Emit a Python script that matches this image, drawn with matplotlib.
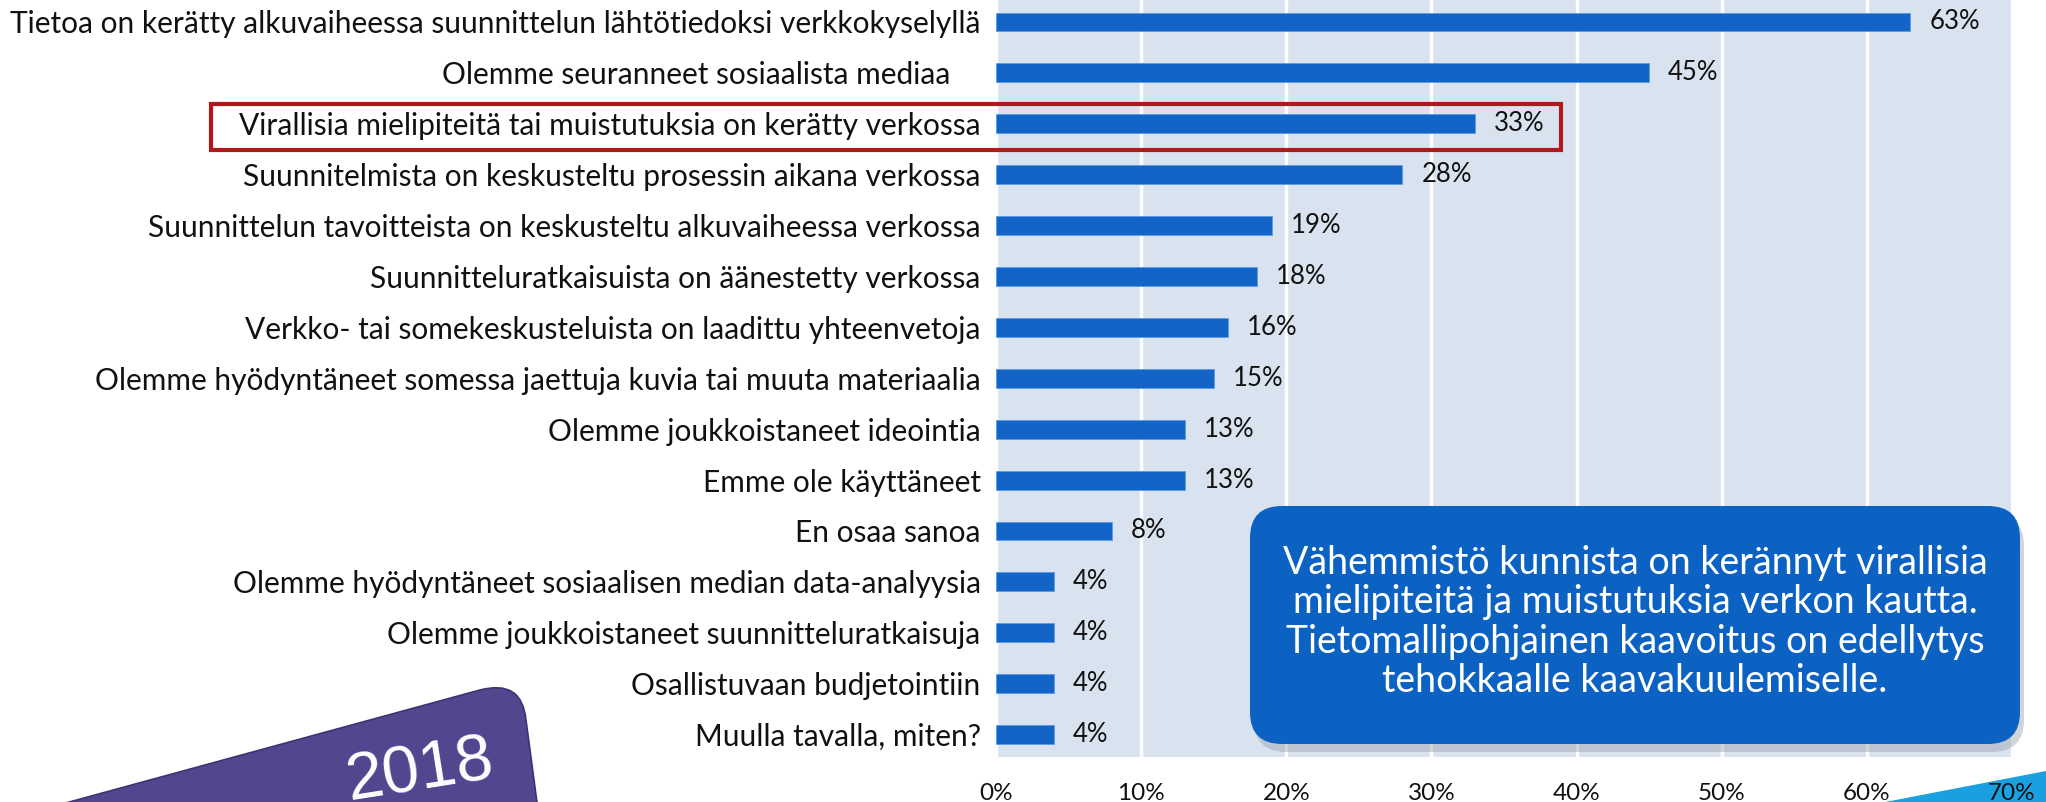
import matplotlib
matplotlib.use("Agg")
import matplotlib.pyplot as plt
from matplotlib.patches import FancyBboxPatch, PathPatch, Polygon, Rectangle
from matplotlib.path import Path

plt.rcParams['font.family'] = ['Lato', 'DejaVu Sans']

categories = [
    "Tietoa on kerätty alkuvaiheessa suunnittelun lähtötiedoksi verkkokyselyllä",
    "Olemme seuranneet sosiaalista mediaa\u00a0\u00a0\u00a0\u00a0",
    "Virallisia mielipiteitä tai muistutuksia on kerätty verkossa",
    "Suunnitelmista on keskusteltu prosessin aikana verkossa",
    "Suunnittelun tavoitteista on keskusteltu alkuvaiheessa verkossa",
    "Suunnitteluratkaisuista on äänestetty verkossa",
    "Verkko- tai somekeskusteluista on laadittu yhteenvetoja",
    "Olemme hyödyntäneet somessa jaettuja kuvia tai muuta materiaalia",
    "Olemme joukkoistaneet ideointia",
    "Emme ole käyttäneet",
    "En osaa sanoa",
    "Olemme hyödyntäneet sosiaalisen median data-analyysia",
    "Olemme joukkoistaneet suunnitteluratkaisuja",
    "Osallistuvaan budjetointiin",
    "Muulla tavalla, miten?",
]
values = [63, 45, 33, 28, 19, 18, 16, 15, 13, 13, 8, 4, 4, 4, 4]
xticks = [0, 10, 20, 30, 40, 50, 60, 70]

callout_lines = [
    "Vähemmistö kunnista on kerännyt virallisia",
    "mielipiteitä ja muistutuksia verkon kautta.",
    "Tietomallipohjainen kaavoitus on edellytys",
    "tehokkaalle kaavakuulemiselle.",
]
year_text = "2018"

W, H = 2046, 802
fig = plt.figure(figsize=(W / 100, H / 100), dpi=100)
inch = fig.dpi_scale_trans


def px(x, y):
    # image pixel (top-left origin) -> inches from bottom-left
    return (x / 100, (H - y) / 100)


ax = fig.add_axes([996 / W, 1 - 757 / H, (2012 - 996) / W, 757 / H])
ax.set_facecolor('#d9e2ef')
ypos = list(range(len(values)))
ax.barh(ypos, values, height=0.37, color='#1264c6', edgecolor='#5b9be0',
        linewidth=0.6, zorder=3)
for y, v in zip(ypos, values):
    ax.text(v + 1.3, y, f"{v}%", va='center', ha='left', fontsize=18.5,
            color='#111111', zorder=4)

ax.set_xlim(0, 70)
ax.set_ylim(14.44, -0.432)
ax.set_xticks(xticks)
ax.set_xticklabels([f"{t}%" for t in xticks], fontsize=17.5, color='#111111')
ax.set_yticks(ypos)
ax.set_yticklabels(categories, fontsize=21.5, color='#111111')
ax.tick_params(axis='both', length=0)
ax.tick_params(axis='y', pad=11)
ax.tick_params(axis='x', pad=19)
ax.grid(axis='x', color='white', linewidth=2.5, zorder=1)
ax.set_axisbelow(True)
for s in ax.spines.values():
    s.set_visible(False)

# highlight frame around the third row
x0, y0 = px(211, 150)
fig.add_artist(Rectangle((x0, y0), (1561 - 211) / 100, 46 / 100,
                         transform=inch, fill=False, edgecolor='#b0181c',
                         linewidth=3, zorder=6))

# callout box with shadow
bx0, by0 = px(1250, 744)
bw, bh = (2020 - 1250) / 100, (744 - 506) / 100
fig.add_artist(FancyBboxPatch((bx0 + 0.04, by0 - 0.08), bw, bh,
                              boxstyle="round,pad=0,rounding_size=0.32",
                              transform=inch, facecolor='#9aa3ad', alpha=0.45,
                              edgecolor='none', zorder=5))
fig.add_artist(FancyBboxPatch((bx0, by0), bw, bh,
                              boxstyle="round,pad=0,rounding_size=0.32",
                              transform=inch, facecolor='#0b62c2',
                              edgecolor='none', zorder=6))
cx, cy = px(1635, 622)
fig.text(cx, cy, "\n".join(callout_lines), transform=inch, ha='center',
         va='center', fontsize=27, color='white', linespacing=1.12, zorder=7)

# purple tilted tag in lower left
verts = [px(40, 810), px(480, 690), px(522, 679), px(526, 720), px(538, 810), px(40, 810)]
codes = [Path.MOVETO, Path.LINETO, Path.CURVE3, Path.CURVE3, Path.LINETO, Path.CLOSEPOLY]
fig.add_artist(PathPatch(Path(verts, codes), transform=inch, facecolor='#51478f',
                         edgecolor='#3b3375', linewidth=1.2, zorder=5))
tx, ty = px(420, 772)
fig.text(tx, ty, year_text, transform=inch, ha='center', va='center',
         fontsize=48, color='white', rotation=9, family='Liberation Sans', zorder=6)

# cyan wedge bottom right
fig.add_artist(Polygon([px(1880, 803), px(2046, 771), px(2046, 803)], closed=True,
                       transform=inch, facecolor='#1aa0e0', edgecolor='none',
                       zorder=-1))

fig.savefig("out.png", dpi=100)
